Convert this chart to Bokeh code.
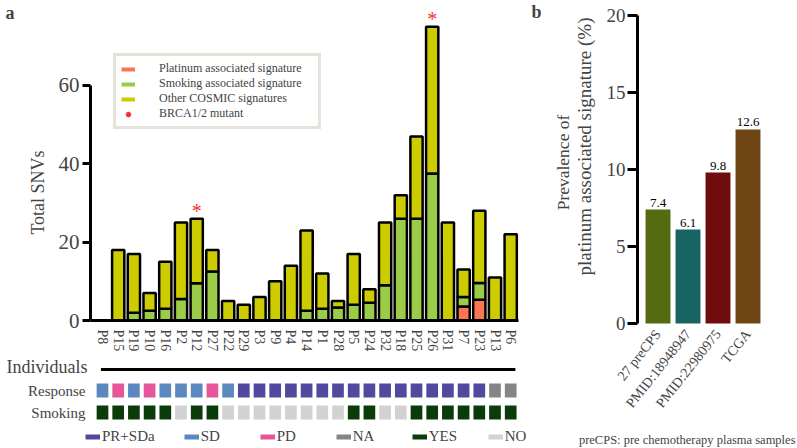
import math
from bokeh.plotting import figure
from bokeh.layouts import row, column
from bokeh.models import (ColumnDataSource, Range1d, FixedTicker, Legend, LegendItem, Label)
from bokeh.transform import factor_cmap
from bokeh.core.properties import value
from bokeh.embed import file_html
from bokeh.resources import INLINE

# ---------------- data ----------------
patients = ["P8", "P15", "P19", "P10", "P16", "P2", "P12", "P27", "P22", "P29",
            "P3", "P9", "P4", "P14", "P1", "P28", "P5", "P24", "P32", "P18",
            "P25", "P26", "P31", "P7", "P23", "P13", "P6"]
platinum_sig = [0, 0, 0, 0, 0, 0, 0, 0, 0, 0,
                0, 0, 0, 0, 0, 0, 0, 0, 0, 0,
                0, 0, 0, 3.6, 5.3, 0, 0]
smoking_sig = [0, 0, 2, 2.5, 3, 5.5, 9.5, 12.5, 0, 0,
               0, 0, 0, 2.5, 3, 3.3, 4, 4.5, 9, 26,
               26, 37.5, 0, 2.4, 4.3, 0, 0]
total_snvs = [0, 18, 17, 7, 15, 25, 26, 18, 5, 4,
              6, 10, 14, 23, 12, 5, 17, 8, 25, 32,
              47, 75, 25, 13, 28, 11, 22]
brca_mutant = ["P12", "P26"]
response = ["SD", "PD", "SD", "PD", "SD", "SD", "SD", "PD", "SD", "PR+SDa",
            "PR+SDa", "PR+SDa", "PR+SDa", "PR+SDa", "PR+SDa", "PR+SDa", "PR+SDa", "PR+SDa", "PR+SDa", "PR+SDa",
            "PR+SDa", "PR+SDa", "PR+SDa", "PR+SDa", "PR+SDa", "NA", "NA"]
smoking_status = ["YES", "YES", "YES", "YES", "YES", "NO", "YES", "YES", "NO", "NO",
                  "NO", "NO", "NO", "NO", "NO", "NO", "YES", "YES", "NO", "NO",
                  "YES", "YES", "YES", "YES", "YES", "YES", "YES"]
response_levels = ["PR+SDa", "SD", "PD", "NA"]
smoking_levels = ["YES", "NO"]
row_names = ["Smoking", "Response"]

cohorts = ["27 preCPS", "PMID:18948947", "PMID:22980975", "TCGA"]
prevalence = [7.4, 6.1, 9.8, 12.6]

# ---------------- styles ----------------
FONT = "Liberation Serif"
C_PLAT = "#fa7652"
C_SMOK = "#9acc48"
C_OTHER = "#cccc00"
C_STAR = "#f0303c"
response_colors = ["#4f4a9f", "#5b89bf", "#e8559b", "#858585"]
smoking_colors = ["#0a3c0a", "#d2d2d2"]
cohort_colors = ["#556b12", "#186464", "#6e0c0e", "#6e4616"]

# ---------------- layout geometry (page pixels) ----------------
A_W, A_H, H_H = 530, 354, 94
B_W, B_H = 267, 448
A_X0, A_PITCH = 102.0, 15.7      # centre of first patient, spacing
A_Y0, A_UNIT = 320.0, 3.917      # SNV baseline, px per SNV
H_Y0, H_UNIT = 412.0, 22.0       # Smoking row centre, row spacing
B_X0, B_PITCH = 657.5, 30.0      # centre of first cohort, spacing
B_Y0, B_UNIT = 323.0, 15.4       # 0 % baseline, px per %

def ax(px): return (px - A_X0) / A_PITCH
def ay(py): return (A_Y0 - py) / A_UNIT
def hy(py): return (H_Y0 - py) / H_UNIT
def bx(px): return (px - B_X0) / B_PITCH
def by(py): return (B_Y0 - py) / B_UNIT

n = len(patients)
xs = list(range(n))
other_sig = [t - s - p for t, s, p in zip(total_snvs, smoking_sig, platinum_sig)]

src = ColumnDataSource(dict(x=xs, patient=patients, platinum=platinum_sig,
                            smoking=smoking_sig, other=other_sig, total=total_snvs,
                            response=response, smoking_status=smoking_status))
brca_idx = [patients.index(p) for p in brca_mutant]
star_src = ColumnDataSource(dict(x=brca_idx, y=[total_snvs[i] for i in brca_idx],
                                 t=["*"] * len(brca_idx)))
NAN = float("nan")

def blank(fig):
    fig.outline_line_color = None
    fig.grid.visible = False
    return fig

def fig(w, h, xr, yr, **kw):
    return blank(figure(width=w, height=h, x_range=xr, y_range=yr,
                        output_backend="svg", toolbar_location=None,
                        min_border=0, min_border_left=0, min_border_right=0,
                        min_border_top=0, min_border_bottom=0, **kw))

# ---------------- panel a: stacked bars ----------------
x_range = Range1d(ax(0), ax(A_W))
fa = fig(A_W, A_H, x_range, Range1d(ay(A_H), ay(0)))

fa.vbar_stack(["platinum", "smoking", "other"], x="x", width=0.78, source=src,
              fill_color=[C_PLAT, C_SMOK, C_OTHER], line_color="black", line_width=2.5)
fa.text(x="x", y="y", text="t", source=star_src, text_color=C_STAR,
        text_font=value(FONT), text_font_size="20px", text_align="center",
        text_baseline="alphabetic", y_offset=-8)

ya = fa.yaxis[0]
ya.fixed_location = ax(90)
ya.ticker = FixedTicker(ticks=[0, 20, 40, 60])
ya.bounds = (0, 60)
ya.axis_line_width = 3
ya.major_tick_line_width = 3
ya.major_tick_out = 8
ya.major_tick_in = 0
ya.minor_tick_line_color = None
ya.major_label_text_font = FONT
ya.major_label_text_font_size = "21px"
ya.major_label_standoff = 3

xa = fa.xaxis[0]
xa.fixed_location = 0
xa.bounds = (ax(90), n - 0.5)
xa.ticker = FixedTicker(ticks=xs)
xa.major_label_overrides = {i: p for i, p in enumerate(patients)}
xa.axis_line_width = 3
xa.major_tick_line_color = None
xa.minor_tick_line_color = None
xa.major_tick_out = 0
xa.major_tick_in = 0
xa.major_label_orientation = "vertical"
xa.major_label_text_font = FONT
xa.major_label_text_font_size = "14px"
xa.major_label_standoff = 9

fa.add_layout(Label(x=ax(37), y=ay(192), text="Total SNVs", angle=math.pi / 2,
                    text_font=FONT, text_font_size="18px", text_align="center",
                    text_baseline="middle"))
fa.add_layout(Label(x=ax(5), y=ay(12), text="a", text_font=FONT, text_font_size="18px",
                    text_font_style="bold", text_baseline="middle"))

lg_plat = fa.line(x=[NAN], y=[NAN], line_color=C_PLAT, line_width=4)
lg_smok = fa.line(x=[NAN], y=[NAN], line_color=C_SMOK, line_width=4)
lg_other = fa.line(x=[NAN], y=[NAN], line_color=C_OTHER, line_width=4)
lg_star = fa.scatter(x=[NAN], y=[NAN], marker="asterisk", size=10, line_color=C_STAR, line_width=1.5)
legend_a = Legend(items=[
    LegendItem(label="Platinum associated signature", renderers=[lg_plat]),
    LegendItem(label="Smoking associated signature", renderers=[lg_smok]),
    LegendItem(label="Other COSMIC signatures", renderers=[lg_other]),
    LegendItem(label="BRCA1/2 mutant", renderers=[lg_star]),
], location=(113, A_H - 129), orientation="vertical", nrows=4,
    label_text_font=FONT, label_text_font_size="12px",
    glyph_width=14, glyph_height=14, label_height=14, spacing=0,
    label_standoff=24, label_width=154, padding=5, margin=0, title_standoff=0,
    border_line_color="#c8c8b4", border_line_width=3,
    background_fill_color="white", background_fill_alpha=1)
fa.add_layout(legend_a)

# ---------------- panel a: annotation rows ----------------
fh = fig(A_W, H_H, x_range, Range1d(hy(A_H + H_H), hy(A_H)), x_axis_location=None)

fh.rect(x="x", y=row_names.index("Response"), width=0.745, height=0.636, source=src,
        fill_color=factor_cmap("response", response_colors, response_levels), line_color=None)
fh.rect(x="x", y=row_names.index("Smoking"), width=0.745, height=0.636, source=src,
        fill_color=factor_cmap("smoking_status", smoking_colors, smoking_levels), line_color=None)
fh.segment(x0=[-0.1], y0=[hy(369)], x1=[n - 1 + 0.3], y1=[hy(369)],
           line_color="black", line_width=3)

yh = fh.yaxis[0]
yh.fixed_location = ax(90)
yh.ticker = FixedTicker(ticks=list(range(len(row_names))))
yh.major_label_overrides = {i: r for i, r in enumerate(row_names)}
yh.axis_line_color = None
yh.major_tick_line_color = None
yh.minor_tick_line_color = None
yh.major_tick_out = 0
yh.major_tick_in = 0
yh.major_label_text_font = FONT
yh.major_label_text_font_size = "15px"
yh.major_label_standoff = 5

fh.add_layout(Label(x=ax(87), y=hy(366), text="Individuals", text_font=FONT,
                    text_font_size="18px", text_align="right", text_baseline="middle"))

leg_items = []
for lvl, col in zip(response_levels + smoking_levels, response_colors + smoking_colors):
    r = fh.line(x=[NAN], y=[NAN], line_color=col, line_width=5)
    leg_items.append(LegendItem(label=lvl, renderers=[r]))
legend_h = Legend(items=leg_items, location=(85, 3), orientation="horizontal",
                  label_text_font=FONT, label_text_font_size="15px",
                  glyph_width=15, glyph_height=15, label_height=15, label_width=30,
                  label_standoff=2, spacing=29, padding=0, margin=0,
                  border_line_color=None, background_fill_alpha=0)
fh.add_layout(legend_h)

# ---------------- panel b ----------------
bxs = list(range(len(cohorts)))
bsrc = ColumnDataSource(dict(x=bxs, cohort=cohorts, prevalence=prevalence, color=cohort_colors,
                             label=[f"{v:.1f}" for v in prevalence]))
fb = fig(B_W, B_H, Range1d(bx(530), bx(530 + B_W)), Range1d(by(B_H), by(0)))
fb.vbar(x="x", top="prevalence", width=0.83, source=bsrc, fill_color="color", line_color=None)
fb.text(x="x", y="prevalence", text="label", source=bsrc, text_font=value(FONT),
        text_font_size="13px", text_align="center", text_baseline="alphabetic", y_offset=-7)

yb = fb.yaxis[0]
yb.fixed_location = bx(637)
yb.ticker = FixedTicker(ticks=[0, 5, 10, 15, 20])
yb.bounds = (0, 20)
yb.axis_line_width = 3
yb.major_tick_line_width = 3
yb.major_tick_out = 10
yb.major_tick_in = 0
yb.minor_tick_line_color = None
yb.major_label_text_font = FONT
yb.major_label_text_font_size = "19px"
yb.major_label_standoff = 2

xb = fb.xaxis[0]
xb.fixed_location = 0
xb.ticker = FixedTicker(ticks=bxs)
xb.major_label_overrides = {i: c for i, c in enumerate(cohorts)}
xb.axis_line_color = None
xb.major_tick_line_color = None
xb.minor_tick_line_color = None
xb.major_tick_out = 0
xb.major_tick_in = 0
xb.major_label_orientation = 0.9
xb.major_label_text_font = FONT
xb.major_label_text_font_size = "14px"
xb.major_label_standoff = 8

fb.add_layout(Label(x=bx(562), y=by(162), text="Prevalence of", angle=math.pi / 2,
                    text_font=FONT, text_font_size="17.5px", text_align="center",
                    text_baseline="middle"))
fb.add_layout(Label(x=bx(584), y=by(146), text="platinum associated signature (%)",
                    angle=math.pi / 2, text_font=FONT, text_font_size="19px",
                    text_align="center", text_baseline="middle"))
fb.add_layout(Label(x=bx(531), y=by(11), text="b", text_font=FONT, text_font_size="18px",
                    text_font_style="bold", text_baseline="middle"))
fb.add_layout(Label(x=bx(795), y=by(439), text="preCPS: pre chemotherapy plasma samples",
                    text_font=FONT, text_font_size="12.5px", text_align="right",
                    text_baseline="middle"))

layout = row(column(fa, fh, spacing=0), fb, spacing=0)
open("out.html", "w").write(file_html(layout, INLINE))
